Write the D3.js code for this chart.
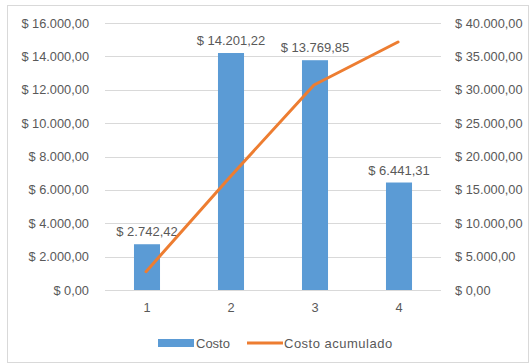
<!DOCTYPE html>
<html>
<head>
<meta charset="utf-8">
<script src="https://cdn.jsdelivr.net/npm/d3@7"></script>
<style>
  html, body { margin: 0; padding: 0; background: #fff; }
  svg { display: block; font-family: "Liberation Sans", Arial, sans-serif; }
</style>
</head>
<body>
<svg id="chart" width="530" height="364"></svg>
<script>
// Cost per period and running total
const categories = ["1", "2", "3", "4"];
const costo = [2742.42, 14201.22, 13769.85, 6441.31];
const costoAcumulado = [2742.42, 16943.64, 30713.49, 37154.80];
const leftTicks = [0, 2000, 4000, 6000, 8000, 10000, 12000, 14000, 16000];
const rightTicks = [0, 5000, 10000, 15000, 20000, 25000, 30000, 35000, 40000];
const seriesNames = ["Costo", "Costo acumulado"];

const svg = d3.select("#chart");
const W = 530, H = 364;
const plot = { left: 105, right: 441, top: 23, bottom: 290 };
const fontSize = "12.8px";

// es-style currency: "$ 14.201,22"
const fmtLocale = d3.formatLocale({ decimal: ",", thousands: ".", grouping: [3], currency: ["$ ", ""] });
const money = fmtLocale.format("$,.2f");

// outer frame
svg.append("rect")
  .attr("x", 7.5).attr("y", 5.5)
  .attr("width", W - 9).attr("height", H - 7)
  .attr("fill", "#fff").attr("stroke", "#d9d9d9");

const x = d3.scaleBand().domain(categories).range([plot.left, plot.right]).paddingInner(0.69).paddingOuter(0.345);
const xc = d3.scaleBand().domain(categories).range([plot.left, plot.right]);
const yL = d3.scaleLinear().domain([0, 16000]).range([plot.bottom, plot.top]);
const yR = d3.scaleLinear().domain([0, 40000]).range([plot.bottom, plot.top]);

// gridlines
svg.append("g").selectAll("line").data(leftTicks).join("line")
  .attr("x1", plot.left).attr("x2", plot.right)
  .attr("y1", d => Math.round(yL(d)) + 0.5).attr("y2", d => Math.round(yL(d)) + 0.5)
  .attr("stroke", "#d9d9d9").attr("stroke-width", 1);

const textColor = "#595959";

// left axis
const leftAxis = svg.append("g").attr("transform", `translate(${plot.left},0)`)
  .call(d3.axisLeft(yL).tickValues(leftTicks).tickFormat(money).tickSize(0).tickPadding(16));
leftAxis.select(".domain").remove();
leftAxis.selectAll("text").attr("fill", textColor).style("font-size", fontSize);

// right axis
const rightAxis = svg.append("g").attr("transform", `translate(${plot.right},0)`)
  .call(d3.axisRight(yR).tickValues(rightTicks).tickFormat(money).tickSize(0).tickPadding(14));
rightAxis.select(".domain").remove();
rightAxis.selectAll("text").attr("fill", textColor).style("font-size", fontSize);

// category axis
const bottomAxis = svg.append("g").attr("transform", `translate(0,${plot.bottom})`)
  .call(d3.axisBottom(xc).tickSize(0).tickPadding(13));
bottomAxis.select(".domain").remove();
bottomAxis.selectAll("text").attr("fill", textColor).style("font-size", fontSize);

// bars
svg.append("g").selectAll("rect").data(costo).join("rect")
  .attr("x", (d, i) => x(categories[i]))
  .attr("width", x.bandwidth())
  .attr("y", d => yL(d))
  .attr("height", d => yL(0) - yL(d))
  .attr("fill", "#5b9bd5");

// bar value labels
svg.append("g").selectAll("text").data(costo).join("text")
  .attr("x", (d, i) => x(categories[i]) + x.bandwidth() / 2)
  .attr("y", d => yL(d) - 8)
  .attr("text-anchor", "middle")
  .attr("fill", textColor)
  .style("font-size", "13px")
  .text(d => money(d));

// cumulative line
const line = d3.line()
  .x((d, i) => xc(categories[i]) + xc.bandwidth() / 2 - 1)
  .y(d => yR(d));
svg.append("path").datum(costoAcumulado)
  .attr("d", line)
  .attr("fill", "none")
  .attr("stroke", "#ed7d31")
  .attr("stroke-width", 3)
  .attr("stroke-linecap", "round")
  .attr("stroke-linejoin", "round");

// legend
const lg = svg.append("g").attr("transform", "translate(0,343)");
lg.append("rect").attr("x", 158).attr("y", -4).attr("width", 36).attr("height", 8).attr("fill", "#5b9bd5");
lg.append("text").attr("x", 196).attr("y", 4.5).attr("fill", textColor).style("font-size", "13px").text(seriesNames[0]);
lg.append("line").attr("x1", 247).attr("x2", 283).attr("y1", 0).attr("y2", 0)
  .attr("stroke", "#ed7d31").attr("stroke-width", 3);
lg.append("text").attr("x", 284).attr("y", 4.5).attr("fill", textColor).style("font-size", "13px")
  .style("letter-spacing", "0.5px").text(seriesNames[1]);
</script>
</body>
</html>
